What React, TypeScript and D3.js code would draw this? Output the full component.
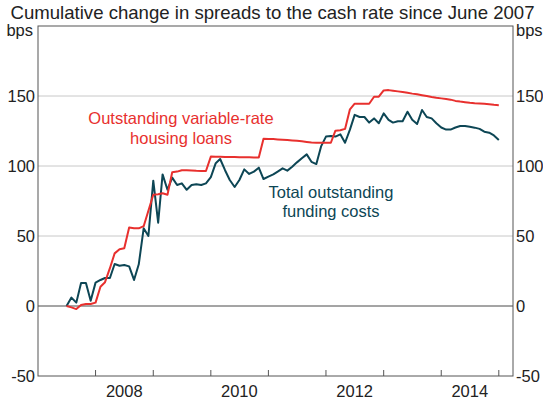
import React from "react";
import * as d3 from "d3";

const startMonth = new Date(2007, 5, 1); // June 2007
const endMonth = new Date(2015, 0, 1); // exclusive (Dec 2014 is last)

const fundingCosts: number[] = [
  0, 6, 2.4, 16.4, 16.4, 3.8, 16.7, 18.6, 20, 20, 30, 28.8, 29.3, 28.3, 18.6, 29.8,
  55.5, 50, 89.5, 59.5, 94, 83, 91.7, 86.4, 87.6, 83, 86.4, 87, 86.4, 87.6, 92,
  102, 105, 97, 90, 85, 90, 97.6, 94.3, 96, 98.8, 90.7, 92.4, 94, 96, 98.3, 96.7,
  99.5, 102.6, 105.5, 108.3, 103, 101.4, 114, 121, 121.4, 121, 122.6, 116.6, 126,
  136.5, 135, 135, 131, 134, 130.5, 137.6, 133, 131, 132, 132, 138.8, 133, 130,
  140, 135, 134, 130.5, 127.5, 126, 126, 127.5, 128.6, 128.6, 128, 127.4, 126.5,
  124.5, 123.8, 121.8, 118.6,
];

const housingLoans: number[] = [
  0, -1, -2.2, 0.7, 1.4, 1.4, 2.4, 13.8, 17, 27, 37.6, 40.5, 41.2, 56, 55.5, 55.5,
  57, 68, 79.5, 79.8, 80.5, 79.5, 95.5, 96, 97, 97, 96.8, 96.6, 96.5, 96.4, 106.7,
  106.6, 106.6, 106.5, 106.5, 106.4, 106.3, 106.2, 106.2, 106.1, 106, 119.5, 119.3,
  119.2, 119, 118.8, 118.6, 118.3, 118, 117.6, 117.2, 116.8, 116.6, 116.6, 116.6,
  116.6, 125.2, 125.5, 126.5, 140.5, 144.5, 144.5, 144.5, 144.5, 149.5, 149.5, 154,
  154.2, 153.8, 153.3, 152.8, 152.3, 151.7, 151.2, 150.6, 150, 149.3, 148.7, 148.3,
  147.9, 147.4, 146.5, 146, 145.6, 145.2, 144.9, 144.7, 144.4, 144.1, 143.7, 143.4,
];

const yTicks: number[] = [-50, 0, 50, 100, 150];
const yearLabels: number[] = [2008, 2010, 2012, 2014];
const yearTicks: number[] = [2008, 2009, 2010, 2011, 2012, 2013, 2014, 2015];

const title = "Cumulative change in spreads to the cash rate since June 2007";
const unit = "bps";
const loansLabel = ["Outstanding variable-rate", "housing loans"];
const fundingLabel = ["Total outstanding", "funding costs"];

const RED = "#e8302e";
const TEAL = "#0d4655";
const FONT = "'Liberation Sans', Arial, sans-serif";
const FS = 16.5;

export default function App() {
  const W = 543;
  const H = 404;
  const left = 38;
  const right = 513;
  const top = 26;
  const bottom = 376;

  const months = d3.timeMonth.range(startMonth, endMonth);
  // points plotted at month end
  const dates = months.map((m) => d3.timeMonth.offset(m, 1));

  const x = d3
    .scaleTime()
    .domain([new Date(2007, 0, 1), new Date(2015, 3, 1)])
    .range([left, right]);
  const y = d3.scaleLinear().domain([-50, 200]).range([bottom, top]);

  const line = d3
    .line<number>()
    .x((_, i) => x(dates[i]))
    .y((v) => y(v));

  return (
    <svg
      width={W}
      height={H}
      style={{ position: "absolute", left: 0, top: 0, background: "#fff" }}
      fontFamily={FONT}
    >
      <text x={W / 2 + 1} y={19} textAnchor="middle" fontSize={18.6} fill="#222">
        {title}
      </text>
      {/* gridlines */}
      {yTicks
        .filter((t) => t > 0)
        .map((t) => (
          <line key={t} x1={left} x2={right} y1={y(t)} y2={y(t)} stroke="#c8c8c8" strokeWidth={1} />
        ))}
      <line x1={left} x2={right} y1={y(0)} y2={y(0)} stroke="#4a4a4a" strokeWidth={1} />
      {/* frame */}
      <rect x={left} y={top} width={right - left} height={bottom - top} fill="none" stroke="#555" strokeWidth={1} />
      {/* x ticks */}
      {yearTicks.map((yr) => {
        const px = x(new Date(yr, 0, 1));
        return <line key={yr} x1={px} x2={px} y1={bottom} y2={bottom - 6} stroke="#555" strokeWidth={1} />;
      })}
      {yearLabels.map((yr) => (
        <text key={yr} x={x(new Date(yr, 6, 1))} y={397} textAnchor="middle" fontSize={FS} fill="#222">
          {yr}
        </text>
      ))}
      {/* y labels */}
      {yTicks.map((t) => (
        <g key={t}>
          <text x={left - 3} y={y(t) + 6} textAnchor="end" fontSize={FS} fill="#222">
            {t}
          </text>
          <text x={right + 3} y={y(t) + 6} textAnchor="start" fontSize={FS} fill="#222">
            {t}
          </text>
        </g>
      ))}
      <text x={left - 5} y={36} textAnchor="end" fontSize={FS} fill="#222">
        {unit}
      </text>
      <text x={right + 3} y={36} textAnchor="start" fontSize={FS} fill="#222">
        {unit}
      </text>
      {/* series */}
      <path d={line(fundingCosts) || ""} fill="none" stroke={TEAL} strokeWidth={2} strokeLinejoin="round" />
      <path d={line(housingLoans) || ""} fill="none" stroke={RED} strokeWidth={2} strokeLinejoin="round" />
      {/* labels */}
      {loansLabel.map((s, i) => (
        <text key={s} x={181} y={124 + i * 20} textAnchor="middle" fontSize={FS} fill={RED}>
          {s}
        </text>
      ))}
      {fundingLabel.map((s, i) => (
        <text key={s} x={331} y={198 + i * 19} textAnchor="middle" fontSize={FS} fill={TEAL}>
          {s}
        </text>
      ))}
    </svg>
  );
}
